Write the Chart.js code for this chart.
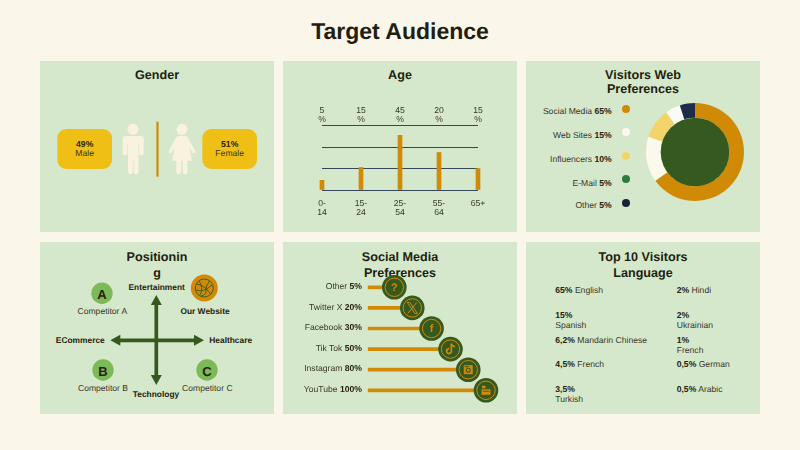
<!DOCTYPE html>
<html>
<head>
<meta charset="utf-8">
<title>Target Audience</title>
<script src="https://cdn.jsdelivr.net/npm/chart.js@4"></script>
<style>
    html, body { margin: 0; padding: 0; background: #fbf6ea; }
    #page { position: relative; width: 800px; height: 450px; overflow: hidden; font-family: "Liberation Sans", Arial, sans-serif; color: #3a3727; text-rendering: geometricPrecision; }
    .panel { position: absolute; background: #d5e8cb; }
    .txt { position: absolute; white-space: nowrap; line-height: 1; }
    .txt b { color: #26220f; }
    .head { font-weight: bold; color: #221e0f; }
    canvas { position: absolute; }
    svg { position: absolute; left: 0; top: 0; }
</style>
</head>
<body>
<div id="page">
    <div class="panel" style="left:40px;top:61px;width:234px;height:171px"></div>
    <div class="panel" style="left:283px;top:61px;width:234px;height:171px"></div>
    <div class="panel" style="left:526px;top:61px;width:234px;height:171px"></div>
    <div class="panel" style="left:40px;top:242px;width:234px;height:172px"></div>
    <div class="panel" style="left:283px;top:242px;width:234px;height:172px"></div>
    <div class="panel" style="left:526px;top:242px;width:234px;height:172px"></div>

    <svg id="art" width="800" height="450" xmlns="http://www.w3.org/2000/svg">
        <!-- gender -->
        <rect x="57.3" y="129" width="54.7" height="40" rx="9" fill="#f0bf16"/>
        <rect x="202.3" y="129" width="54.7" height="40" rx="9" fill="#f0bf16"/>
        <rect x="156.4" y="121.7" width="2.2" height="55" fill="#d18a05"/>
        <g fill="#f8f2df">
            <circle cx="133" cy="129.3" r="5.5"/>
            <rect x="122.7" y="136" width="21" height="8" rx="3"/>
            <rect x="122.7" y="137" width="4.6" height="18.5" rx="2.3"/>
            <rect x="139.1" y="137" width="4.6" height="18.5" rx="2.3"/>
            <rect x="128" y="137" width="10.4" height="24"/>
            <rect x="128" y="150" width="4.8" height="24.3" rx="2.4"/>
            <rect x="133.6" y="150" width="4.8" height="24.3" rx="2.4"/>
            <circle cx="182" cy="129.3" r="5.5"/>
            <path d="M179 136 H185 Q187 136 187.5 138 L192 160.7 H172 L176.5 138 Q177 136 179 136 Z"/>
            <rect x="176.3" y="158" width="4.8" height="16.3" rx="2.4"/>
            <rect x="182.6" y="158" width="4.8" height="16.3" rx="2.4"/>
        </g>
        <g stroke="#f8f2df" stroke-width="3.6" stroke-linecap="round">
            <line x1="177.5" y1="138.5" x2="170.3" y2="151.5"/>
            <line x1="186.5" y1="138.5" x2="193.7" y2="151.5"/>
        </g>
        <!-- positioning -->
        <g stroke="#35591f" stroke-width="3.7">
            <line x1="116" y1="340.3" x2="198" y2="340.3"/>
            <line x1="156.3" y1="301" x2="156.3" y2="379"/>
        </g>
        <g fill="#35591f">
            <path d="M110.3 340.3 L120.3 334.8 V345.8 Z"/>
            <path d="M204 340.3 L194 334.8 V345.8 Z"/>
            <path d="M156.3 295 L150.8 305 H161.8 Z"/>
            <path d="M156.3 385 L150.8 375 H161.8 Z"/>
        </g>
        <g fill="#7cb957">
            <circle cx="102" cy="293.3" r="10.7"/>
            <circle cx="103" cy="370" r="10.7"/>
            <circle cx="207" cy="370" r="10.7"/>
        </g>
        <circle cx="204.3" cy="288" r="13.5" fill="#d18a05"/>
        <g fill="none" stroke="#35591f" stroke-width="0.9">
            <circle cx="204.3" cy="288" r="9"/>
            <path d="M196.5 284 Q204 285 209 292 Q211 295 211 293.5"/>
            <path d="M199 281 Q204 288 200 295"/>
            <path d="M209.5 281 Q205 286 206 291 Q206 295 201 296"/>
            <path d="M196 290 Q203 293 212 285"/>
        </g>
    </svg>

    <canvas id="ageChart" width="234" height="125" style="left:283px;top:100px"></canvas>
    <canvas id="webChart" width="98" height="98" style="left:646px;top:103px"></canvas>
    <canvas id="socialChart" width="234" height="144" style="left:283px;top:270px"></canvas>
</div>

<script>
// ===============================
// DATA
// ===============================
const genderShares = ["49%", "51%"];
const genderNames = ["Male", "Female"];

const ageLabels = [["0-", "14"], ["15-", "24"], ["25-", "54"], ["55-", "64"], ["65+"]];
const ageShareLabels = [["5", "%"], ["15", "%"], ["45", "%"], ["20", "%"], ["15", "%"]];
const ageBarValues = [9, 21, 51, 35, 20];

const webLabels = ["Social Media", "Web Sites", "Influencers", "E-Mail", "Other"];
const webValues = [65, 15, 10, 5, 5];
const webSliceColors = ["#d18a05", "#fbf8ec", "#f2d46a", "#fbfbf6", "#1e2c4c"];
const webDotColors = ["#d18a05", "#fbf8ec", "#f2d46a", "#2e7c3e", "#152238"];

const socialLabels = ["Other", "Twitter X", "Facebook", "Tik Tok", "Instagram", "YouTube"];
const socialShares = ["5%", "20%", "30%", "50%", "80%", "100%"];
const socialBarValues = [22.5, 37.7, 54, 70, 85, 100];
const socialIcons = ["help", "x", "facebook", "tiktok", "instagram", "youtube"];

const languageLeft = [["65%", "English"], ["15%", "Spanish"], ["6,2%", "Mandarin Chinese"], ["4,5%", "French"], ["3,5%", "Turkish"]];
const languageRight = [["2%", "Hindi"], ["2%", "Ukrainian"], ["1%", "French"], ["0,5%", "German"], ["0,5%", "Arabic"]];

// ===============================
// COLOURS
// ===============================
const ORANGE = "#d18a05";
const GREEN = "#35591f";
const TEXT = "#3a3727";
const BOLD = "#26220f";
const FONT = '"Liberation Sans", Arial, sans-serif';

// same text rendering in the canvases as in the page
const smoothTextPlugin = {
    id: "smoothTextPlugin",
    beforeDraw: function (chart) {
        chart.ctx.textRendering = "geometricPrecision";
    }
};

// ===============================
// TEXT HELPER
// ===============================
function addText(x, y, html, size, align, cls) {
    const page = document.getElementById("page");
    const el = document.createElement("div");
    el.className = "txt" + (cls ? " " + cls : "");
    el.innerHTML = html;
    el.style.left = x + "px";
    el.style.top = y + "px";
    el.style.fontSize = size + "px";
    const shift = align === "center" ? "-50%" : align === "right" ? "-100%" : "0";
    el.style.transform = "translate(" + shift + ", -50%)";
    // canvases stay on top, the icons cover the title in the reference
    page.insertBefore(el, document.getElementById("ageChart"));
    return el;
}

// ===============================
// HEADINGS
// ===============================
addText(400, 30.5, "Target Audience", 23, "center", "head");
addText(157, 74.7, "Gender", 12.6, "center", "head");
addText(400, 74.7, "Age", 12.6, "center", "head");
addText(643, 74.7, "Visitors Web", 12.6, "center", "head");
addText(643, 89.3, "Preferences", 12.6, "center", "head");
addText(157, 257.3, "Positionin", 12.6, "center", "head");
addText(157, 273.3, "g", 12.6, "center", "head");
addText(400, 257.3, "Social Media", 12.6, "center", "head");
addText(400, 272.7, "Preferences", 12.6, "center", "head");
addText(643, 257.3, "Top 10 Visitors", 12.6, "center", "head");
addText(643, 272.7, "Language", 12.6, "center", "head");

// ===============================
// GENDER
// ===============================
const genderBoxX = [84.7, 229.7];
genderShares.forEach(function (share, i) {
    addText(genderBoxX[i], 144.3, "<b>" + share + "</b>", 8.6, "center");
    addText(genderBoxX[i], 153.3, genderNames[i], 8.6, "center");
});

// ===============================
// WEB PREFERENCES LEGEND
// ===============================
const webTextY = [110.7, 134.7, 158.7, 183.3, 205];
const webDotY = [108.7, 132.3, 156, 179.3, 203];
webLabels.forEach(function (label, i) {
    addText(611.7, webTextY[i], label + " <b>" + webValues[i] + "%</b>", 8.6, "right");
    const dot = document.createElement("div");
    dot.style.cssText = "position:absolute;width:8px;height:8px;border-radius:50%;left:622.3px;top:" + (webDotY[i] - 4) + "px;background:" + webDotColors[i];
    document.getElementById("page").appendChild(dot);
});

// ===============================
// POSITIONING
// ===============================
addText(156.7, 287, "<b>Entertainment</b>", 8.4, "center");
addText(156, 393.7, "<b>Technology</b>", 8.4, "center");
addText(80.3, 340.3, "<b>ECommerce</b>", 8.4, "center");
addText(230.7, 340.3, "<b>Healthcare</b>", 8.4, "center");
addText(205, 311.3, "<b>Our Website</b>", 8.4, "center");
addText(102.3, 311.3, "Competitor A", 8.6, "center");
addText(103, 388.3, "Competitor B", 8.6, "center");
addText(207.3, 388.3, "Competitor C", 8.6, "center");
addText(102, 293.8, "<b>A</b>", 13, "center");
addText(103, 370.5, "<b>B</b>", 13, "center");
addText(207, 370.5, "<b>C</b>", 13, "center");

// ===============================
// LANGUAGES
// ===============================
const languageRows = [290, 315, 339.7, 364.3, 389];
const LINE_STEP = 10.2;

function addLanguage(x, entry, row, wrapped) {
    if (wrapped) {
        addText(x, languageRows[row], "<b>" + entry[0] + "</b>", 8.6, "left");
        addText(x, languageRows[row] + LINE_STEP, entry[1], 8.6, "left");
    } else {
        addText(x, languageRows[row], "<b>" + entry[0] + "</b> " + entry[1], 8.6, "left");
    }
}
languageLeft.forEach(function (entry, i) {
    addLanguage(555.3, entry, i, i === 1 || i === 4);
});
languageRight.forEach(function (entry, i) {
    addLanguage(676.7, entry, i, i === 1 || i === 2);
});

// ===============================
// AGE CHART
// ===============================
new Chart(document.getElementById("ageChart"), {
    type: "bar",
    data: {
        labels: ageLabels,
        datasets: [{
            data: ageBarValues,
            xAxisID: "x",
            backgroundColor: ORANGE,
            barThickness: 4,
            clip: false
        }]
    },
    options: {
        responsive: false,
        animation: false,
        layout: { padding: { left: 39, right: 39, top: 4.7, bottom: 0 } },
        plugins: { legend: { display: false }, tooltip: { enabled: false } },
        scales: {
            x: {
                offset: false,
                grid: { display: false, drawTicks: false },
                border: { display: false },
                afterFit: function (axis) { axis.height = 35; },
                ticks: { autoSkip: false, maxRotation: 0, padding: 8.5, color: TEXT, font: { family: FONT, size: 8.6, lineHeight: 1.1 } }
            },
            xTop: {
                type: "category",
                position: "top",
                labels: ageShareLabels,
                offset: false,
                grid: { display: false, drawTicks: false },
                border: { display: false },
                afterFit: function (axis) { axis.height = 21; },
                ticks: { autoSkip: false, maxRotation: 0, padding: 1, color: TEXT, font: { family: FONT, size: 8.6, lineHeight: 1.1 } }
            },
            y: {
                min: 0,
                max: 60,
                afterFit: function (axis) { axis.width = 0; },
                grid: { color: "#34485a", lineWidth: 1, drawTicks: false },
                border: { display: false },
                ticks: { display: false, stepSize: 20 }
            }
        }
    },
    plugins: [smoothTextPlugin]
});

// ===============================
// WEB PREFERENCES DONUT
// ===============================
const holePlugin = {
    id: "holePlugin",
    afterDatasetsDraw: function (chart) {
        const arc = chart.getDatasetMeta(0).data[0];
        const ctx = chart.ctx;
        ctx.save();
        ctx.fillStyle = GREEN;
        ctx.beginPath();
        ctx.arc(arc.x, arc.y, arc.innerRadius, 0, Math.PI * 2);
        ctx.fill();
        ctx.restore();
    }
};

new Chart(document.getElementById("webChart"), {
    type: "doughnut",
    data: {
        labels: webLabels,
        datasets: [{ data: webValues, backgroundColor: webSliceColors, borderWidth: 0 }]
    },
    options: {
        responsive: false,
        animation: false,
        cutout: "70%",
        plugins: { legend: { display: false }, tooltip: { enabled: false } }
    },
    plugins: [holePlugin]
});

// ===============================
// SOCIAL MEDIA CHART
// ===============================
function drawGlyph(ctx, name, x, y) {
    ctx.strokeStyle = ORANGE;
    ctx.fillStyle = ORANGE;
    ctx.lineWidth = 1;
    if (name === "help") {
        ctx.font = "bold 11px " + FONT;
        ctx.textAlign = "center";
        ctx.textBaseline = "middle";
        ctx.fillText("?", x, y + 0.5);
    } else if (name === "facebook") {
        ctx.font = "bold 11px " + FONT;
        ctx.textAlign = "center";
        ctx.textBaseline = "middle";
        ctx.fillText("f", x, y + 0.5);
    } else if (name === "x") {
        ctx.beginPath();
        ctx.moveTo(x - 5, y - 5.5);
        ctx.lineTo(x - 2.5, y - 5.5);
        ctx.lineTo(x + 5, y + 5.5);
        ctx.lineTo(x + 2.5, y + 5.5);
        ctx.closePath();
        ctx.moveTo(x + 4.5, y - 5.5);
        ctx.lineTo(x - 4.5, y + 5.5);
        ctx.stroke();
    } else if (name === "tiktok") {
        ctx.lineWidth = 1.7;
        ctx.beginPath();
        ctx.arc(x - 1.5, y + 2, 2.4, -Math.PI * 0.1, Math.PI * 1.5, false);
        ctx.moveTo(x + 0.8, y + 2);
        ctx.lineTo(x + 0.8, y - 5.5);
        ctx.quadraticCurveTo(x + 1.2, y - 2.8, x + 4.4, y - 2.6);
        ctx.stroke();
    } else if (name === "instagram") {
        ctx.fillRect(x - 4.5, y - 4.5, 9, 9);
        ctx.fillStyle = GREEN;
        ctx.beginPath();
        ctx.arc(x, y + 0.5, 2.5, 0, Math.PI * 2);
        ctx.fill();
        ctx.fillRect(x - 3.5, y - 3.5, 4, 1);
        ctx.fillStyle = ORANGE;
        ctx.beginPath();
        ctx.arc(x, y + 0.5, 1.4, 0, Math.PI * 2);
        ctx.fill();
    } else if (name === "youtube") {
        ctx.fillRect(x - 4.5, y - 1, 9, 5.5);
        ctx.fillRect(x - 4, y - 4.5, 3.5, 2.5);
        ctx.fillStyle = GREEN;
        ctx.fillRect(x - 3.3, y + 0.5, 6.6, 0.8);
    }
}

const socialPlugin = {
    id: "socialPlugin",
    afterDatasetsDraw: function (chart) {
        const ctx = chart.ctx;
        const bars = chart.getDatasetMeta(0).data;
        ctx.save();
        bars.forEach(function (bar, i) {
            // row label, percent in bold on the right
            const labelRight = 79;
            ctx.textBaseline = "middle";
            ctx.textAlign = "left";
            ctx.font = "bold 8.6px " + FONT;
            const shareWidth = ctx.measureText(socialShares[i]).width;
            ctx.fillStyle = BOLD;
            ctx.fillText(socialShares[i], labelRight - shareWidth, bar.y - 0.7);
            ctx.font = "8.6px " + FONT;
            const nameText = socialLabels[i] + " ";
            const nameWidth = ctx.measureText(nameText).width;
            ctx.fillStyle = TEXT;
            ctx.fillText(nameText, labelRight - shareWidth - nameWidth, bar.y - 0.7);

            // icon badge at the end of the bar
            ctx.fillStyle = GREEN;
            ctx.beginPath();
            ctx.arc(bar.x, bar.y, 12.3, 0, Math.PI * 2);
            ctx.fill();
            ctx.strokeStyle = ORANGE;
            ctx.lineWidth = 1;
            ctx.beginPath();
            ctx.arc(bar.x, bar.y, 9.2, 0, Math.PI * 2);
            ctx.stroke();
            drawGlyph(ctx, socialIcons[i], bar.x, bar.y);
        });
        ctx.restore();
    }
};

new Chart(document.getElementById("socialChart"), {
    type: "bar",
    data: {
        labels: socialLabels,
        datasets: [{ data: socialBarValues, backgroundColor: ORANGE, barThickness: 3 }]
    },
    options: {
        indexAxis: "y",
        responsive: false,
        animation: false,
        layout: { padding: { left: 84.7, right: 31, top: 7, bottom: 13.4 } },
        plugins: { legend: { display: false }, tooltip: { enabled: false } },
        scales: {
            x: { min: 0, max: 100, display: false },
            y: { display: false }
        }
    },
    plugins: [smoothTextPlugin, socialPlugin]
});
</script>
</body>
</html>
